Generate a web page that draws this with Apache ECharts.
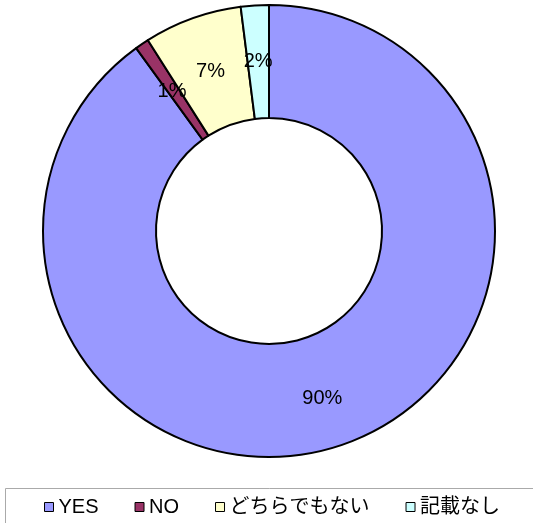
<!DOCTYPE html>
<html>
<head>
<meta charset="utf-8">
<script src="https://cdn.jsdelivr.net/npm/echarts@6/dist/echarts.min.js"></script>
<style>
  html, body { margin: 0; padding: 0; background: #fff; }
  #chart { width: 533px; height: 523px; }
</style>
</head>
<body>
<div id="chart"></div>
<script>
var categories = ['YES', 'NO', 'どちらでもない', '記載なし'];
var values = [90, 1, 7, 2];
var colors = ['#9999FF', '#993366', '#FFFFCC', '#CCFFFF'];

var chart = echarts.init(document.getElementById('chart'));

var data = [];
for (var i = 0; i < categories.length; i++) {
    data.push({ name: categories[i], value: values[i], itemStyle: { color: colors[i] } });
}

var option = {
    animation: false,
    graphic: [{
        type: 'rect',
        shape: { x: 5.5, y: 488.5, width: 560, height: 60 },
        style: { fill: 'none', stroke: '#aaa', lineWidth: 1 }
    }],
    legend: {
        left: 39,
        top: 492,
        itemGap: 36,
        itemWidth: 9,
        itemHeight: 9,
        icon: 'rect',
        itemStyle: { borderColor: '#000', borderWidth: 1 },
        textStyle: {
            fontSize: 20,
            color: '#000',
            fontFamily: 'Liberation Sans, Noto Sans CJK JP, sans-serif'
        },
        data: categories
    },
    series: [{
        type: 'pie',
        center: [269, 231],
        radius: [113, 226],
        startAngle: 90,
        clockwise: true,
        avoidLabelOverlap: false,
        itemStyle: { borderColor: '#000', borderWidth: 2 },
        label: {
            show: true,
            position: 'inside',
            color: '#000',
            fontSize: 20,
            offset: [0, 3],
            fontFamily: 'Liberation Sans, sans-serif',
            formatter: function (p) { return Math.round(p.percent) + '%'; }
        },
        labelLine: { show: false },
        emphasis: { disabled: true },
        data: data
    }]
};
chart.setOption(option);
</script>
</body>
</html>
